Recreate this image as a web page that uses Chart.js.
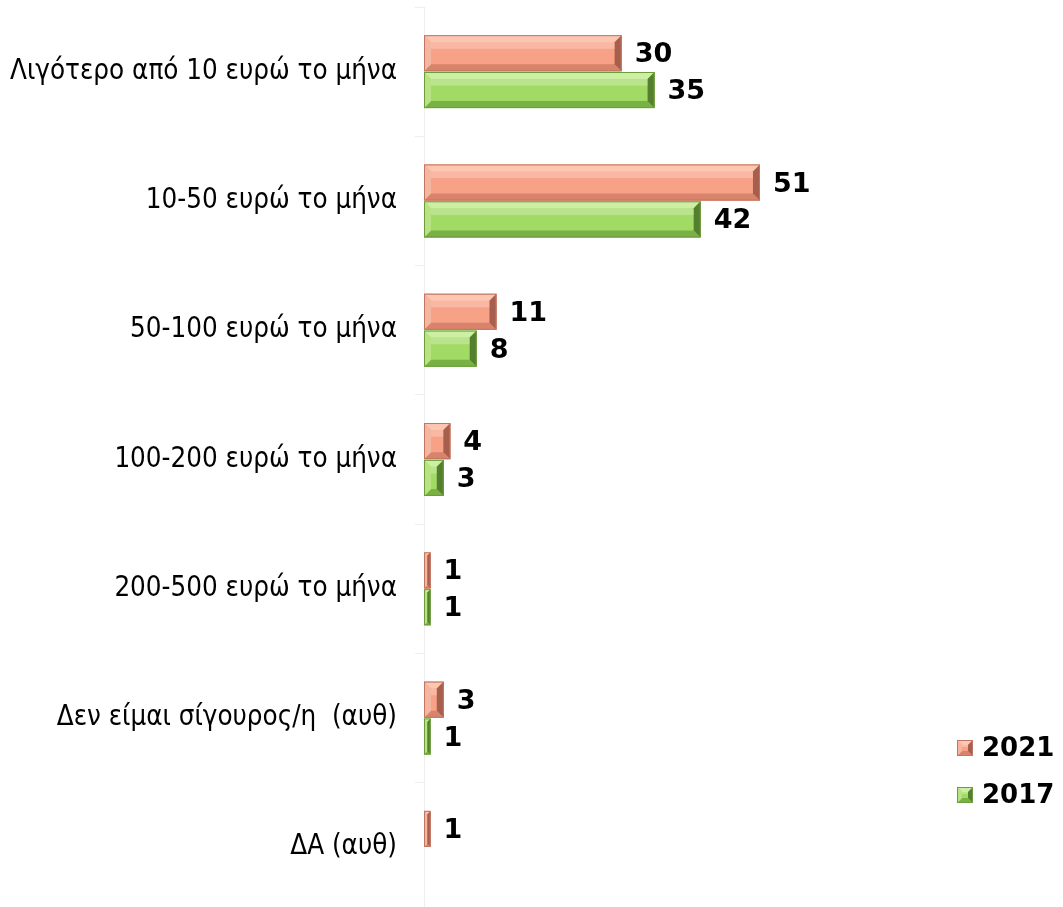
<!DOCTYPE html>
<html>
<head>
<meta charset="utf-8">
<script src="https://cdn.jsdelivr.net/npm/chart.js@4"></script>
<style>
  html, body { margin: 0; padding: 0; background: #fff; overflow: hidden; }
  .chartBox { position: relative; width: 1063px; height: 920px; }
</style>
</head>
<body>
<div class="chartBox"><canvas id="chart"></canvas></div>
<script>
const categories = [
  'Λιγότερο από 10 ευρώ το μήνα',
  '10-50 ευρώ το μήνα',
  '50-100 ευρώ το μήνα',
  '100-200 ευρώ το μήνα',
  '200-500 ευρώ το μήνα',
  'Δεν είμαι σίγουρος/η  (αυθ)',
  'ΔΑ (αυθ)'
];
const values2021 = [30, 51, 11, 4, 1, 3, 1];
const values2017 = [35, 42, 8, 3, 1, 1, null];
const seriesNames = ['2021', '2017'];

// bevel shades per series: main, top, bottom, left, right, outline
const shades = [
  { main: '#F7A186', top: '#FCC6B0', bottom: '#D8836B', left: '#F5B69F', right: '#A65F4C', line: '#C07663' },
  { main: '#A2DA66', top: '#CDEFA3', bottom: '#79B145', left: '#B8E383', right: '#557F2E', line: '#6D9C3E' }
];

function bevelRect(ctx, x0, y0, x1, y1, s, b) {
  const w = x1 - x0, h = y1 - y0;
  b = Math.min(b, w / 2, h / 2);
  ctx.fillStyle = s.main;
  ctx.fillRect(x0, y0, w, h);
  const poly = (pts, c) => {
    ctx.beginPath();
    ctx.moveTo(pts[0][0], pts[0][1]);
    for (let i = 1; i < pts.length; i++) ctx.lineTo(pts[i][0], pts[i][1]);
    ctx.closePath();
    ctx.fillStyle = c;
    ctx.fill();
  };
  poly([[x0, y0], [x1, y0], [x1 - b, y0 + b], [x0 + b, y0 + b]], s.top);
  poly([[x0, y1], [x1, y1], [x1 - b, y1 - b], [x0 + b, y1 - b]], s.bottom);
  poly([[x0, y0], [x0 + b, y0 + b], [x0 + b, y1 - b], [x0, y1]], s.left);
  poly([[x1, y0], [x1 - b, y0 + b], [x1 - b, y1 - b], [x1, y1]], s.right);
  // soft highlight stripe in the face
  if (w > 2 * b + 2) {
    ctx.fillStyle = 'rgba(255,255,255,0.25)';
    ctx.fillRect(x0 + b, y0 + b, w - 2 * b, Math.max(2, (h - 2 * b) * 0.3));
  }
  ctx.strokeStyle = s.line;
  ctx.lineWidth = 1;
  ctx.strokeRect(x0 + 0.5, y0 + 0.5, w - 1, h - 1);
}

const bevelBars = {
  id: 'bevelBars',
  afterDatasetsDraw(chart) {
    const ctx = chart.ctx;
    ctx.save();
    chart.data.datasets.forEach((ds, di) => {
      const meta = chart.getDatasetMeta(di);
      meta.data.forEach((bar, i) => {
        if (ds.data[i] == null) return;
        const p = bar.getProps(['x', 'y', 'base', 'height'], true);
        const x0 = Math.min(p.base, p.x), x1 = Math.max(p.base, p.x);
        bevelRect(ctx, x0, p.y - p.height / 2, x1, p.y + p.height / 2, shades[di], 7);
      });
    });
    ctx.restore();
  }
};

const valueLabels = {
  id: 'valueLabels',
  afterDatasetsDraw(chart) {
    const ctx = chart.ctx;
    ctx.save();
    ctx.font = 'bold 27px "DejaVu Sans", Verdana, sans-serif';
    ctx.fillStyle = '#000';
    ctx.textAlign = 'left';
    ctx.textBaseline = 'middle';
    chart.data.datasets.forEach((ds, di) => {
      chart.getDatasetMeta(di).data.forEach((bar, i) => {
        if (ds.data[i] == null) return;
        ctx.fillText(String(ds.data[i]), bar.x + 13, bar.y + 2);
      });
    });
    ctx.restore();
  }
};

const sideLegend = {
  id: 'sideLegend',
  afterDraw(chart, args, opts) {
    const ctx = chart.ctx;
    ctx.save();
    ctx.font = 'bold 26px "DejaVu Sans", Verdana, sans-serif';
    ctx.textBaseline = 'middle';
    ctx.fillStyle = '#000';
    chart.data.datasets.forEach((ds, di) => {
      const y = opts.y + di * opts.step;
      bevelRect(ctx, opts.x, y - 8, opts.x + 16, y + 8, shades[di], 5);
      ctx.fillStyle = '#000';
      ctx.fillText(ds.label, opts.x + 25, y + 1);
    });
    ctx.restore();
  }
};

new Chart(document.getElementById('chart'), {
  type: 'bar',
  data: {
    labels: categories,
    datasets: [
      { label: seriesNames[0], data: values2021, backgroundColor: shades[0].main, borderWidth: 0 },
      { label: seriesNames[1], data: values2017, backgroundColor: shades[1].main, borderWidth: 0 }
    ]
  },
  options: {
    indexAxis: 'y',
    responsive: true,
    maintainAspectRatio: false,
    animation: false,
    categoryPercentage: 0.57,
    barPercentage: 0.98,
    layout: { padding: { top: 7, bottom: 8, left: 0, right: 0 } },
    scales: {
      x: { display: false, min: 0, max: 97 },
      y: {
        afterFit(scale) {
          scale.width = 424;
          scale.paddingTop = 0;
          scale.paddingBottom = 0;
        },
        grid: { drawOnChartArea: false, color: '#eeeeee', tickLength: 9 },
        border: { color: '#eeeeee' },
        ticks: {
          padding: 18,
          color: '#000',
          font: { family: '"DejaVu Sans Condensed", "DejaVu Sans", sans-serif', size: 27.5 }
        }
      }
    },
    plugins: {
      legend: { display: false },
      tooltip: { enabled: false },
      sideLegend: { x: 957, y: 748, step: 47 }
    }
  },
  plugins: [bevelBars, valueLabels, sideLegend]
});
</script>
</body>
</html>
